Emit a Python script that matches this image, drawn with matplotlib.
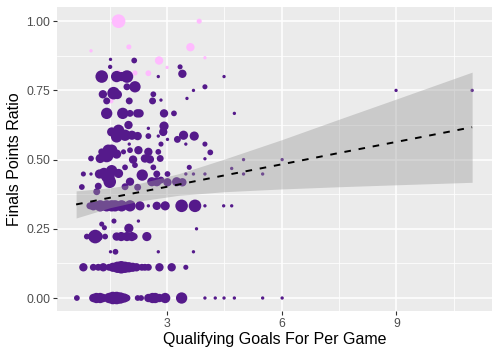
import matplotlib
matplotlib.use("Agg")
import matplotlib.pyplot as plt
import numpy as np

plt.rcParams['font.family'] = ['Liberation Sans', 'DejaVu Sans']

# ---- data ----
purple_x = [
    1.52, 2.14, 1.51, 3.34,
    1.29, 1.68, 1.81, 1.95, 2.77, 3.40, 4.49,
    1.95, 2.16, 3.99, 3.69, 8.99, 10.98,
    1.32, 1.60, 1.70, 2.64, 1.42, 2.01, 2.62, 2.84, 3.52,
    1.42, 1.84, 2.03, 2.22, 2.28, 2.92, 3.18, 4.76,
    1.99, 2.92, 2.51, 1.55, 1.73, 2.90,
    1.68, 1.90, 2.08, 2.23, 2.51, 2.77, 3.01, 3.27, 3.43, 3.71,
    2.01, 2.84, 3.49, 3.99,
    4.13, 3.99,
    1.29, 1.46, 1.55, 1.86, 2.03, 2.25, 2.51, 2.77,
    1.01, 1.25, 1.42, 1.68, 2.11, 2.42, 2.55, 2.82, 5.00, 6.01,
    0.81, 1.01, 1.23, 1.35, 1.45, 1.55, 1.50, 1.73, 1.90, 2.16, 2.03, 2.35, 2.64, 2.60,
    2.84, 2.73, 3.01, 2.73, 3.01, 3.25, 3.40, 3.49, 3.69, 3.99, 3.58, 4.69, 5.00, 5.50,
    0.77, 1.20, 1.90, 2.23, 1.16,
    0.98, 1.07, 1.25, 1.42, 1.55, 1.64, 1.81, 2.03, 2.29, 2.51, 2.73, 2.95, 3.38, 3.73,
    3.99, 4.48, 4.69,
    1.61, 2.25, 1.29, 1.36, 2.00, 3.77,
    0.90, 1.12, 1.05, 1.20, 1.38, 1.68, 1.80, 1.95, 2.08, 2.14, 2.47,
    1.52, 1.65, 2.77, 3.69,
    0.81, 1.07, 1.20, 1.33, 1.48, 1.58, 1.70, 1.80, 1.90, 2.00, 2.10, 2.20, 2.34, 2.42,
    2.51, 2.80, 3.12, 3.49,
    0.64, 1.07, 1.15, 1.25, 1.33, 1.48, 1.58, 1.68, 1.78, 1.88, 1.95, 2.23, 2.32, 2.51,
    2.62, 2.69, 2.80, 2.95, 3.38, 3.99, 4.26, 4.49, 4.76, 5.50, 6.01,
]
purple_y = [
    0.862, 0.858, 0.835, 0.835,
    0.80, 0.80, 0.80, 0.80, 0.80, 0.81, 0.80,
    0.763, 0.763, 0.763, 0.75, 0.75, 0.75,
    0.736, 0.74, 0.735, 0.736, 0.712, 0.712, 0.712, 0.715, 0.721,
    0.667, 0.667, 0.667, 0.667, 0.667, 0.667, 0.667, 0.667,
    0.625, 0.621, 0.613, 0.60, 0.606, 0.60,
    0.582, 0.588, 0.588, 0.585, 0.585, 0.585, 0.573, 0.573, 0.588, 0.585,
    0.556, 0.556, 0.556, 0.556,
    0.526, 0.503,
    0.528, 0.534, 0.534, 0.528, 0.534, 0.534, 0.528, 0.528,
    0.504, 0.504, 0.515, 0.52, 0.50, 0.504, 0.501, 0.504, 0.50, 0.50,
    0.448, 0.448, 0.448, 0.45, 0.44, 0.46, 0.42, 0.45, 0.472, 0.48, 0.42, 0.444, 0.472, 0.42,
    0.426, 0.448, 0.448, 0.42, 0.418, 0.42, 0.418, 0.448, 0.448, 0.448, 0.472, 0.468, 0.448, 0.448,
    0.401, 0.404, 0.402, 0.40, 0.384,
    0.333, 0.333, 0.333, 0.333, 0.333, 0.333, 0.333, 0.333, 0.333, 0.333, 0.333, 0.333, 0.333, 0.333,
    0.333, 0.333, 0.333,
    0.278, 0.278, 0.267, 0.254, 0.252, 0.25,
    0.222, 0.222, 0.222, 0.222, 0.222, 0.222, 0.222, 0.222, 0.222, 0.222, 0.222,
    0.167, 0.167, 0.167, 0.167,
    0.111, 0.111, 0.111, 0.111, 0.111, 0.111, 0.111, 0.111, 0.111, 0.111, 0.111, 0.111, 0.111, 0.111,
    0.111, 0.111, 0.111, 0.111,
    0.0, 0.0, 0.0, 0.0, 0.0, 0.0, 0.0, 0.0, 0.0, 0.0, 0.0, 0.0, 0.0, 0.0,
    0.0, 0.0, 0.0, 0.0, 0.0, 0.0, 0.0, 0.0, 0.0, 0.0, 0.0,
]
purple_games = [
    1, 4, 2, 3,
    21, 17, 11, 21, 1, 9, 1,
    6, 17, 3, 1, 1, 1,
    9, 21, 11, 4, 6, 6, 6, 1, 1,
    17, 17, 6, 9, 9, 9, 4, 1,
    9, 11, 1, 11, 17, 9,
    17, 17, 11, 9, 4, 1, 1, 6, 11, 11,
    1, 3, 1, 3,
    4, 1,
    6, 17, 17, 3, 4, 9, 9, 4,
    4, 11, 25, 11, 9, 9, 9, 6, 1, 1,
    3, 1, 11, 17, 25, 17, 21, 11, 4, 4, 9, 17, 4, 11,
    6, 6, 4, 11, 9, 11, 9, 1, 1, 1, 3, 1, 1, 1,
    4, 6, 6, 6, 6,
    6, 11, 17, 17, 17, 17, 17, 17, 11, 1, 9, 11, 21, 21,
    1, 1, 1,
    3, 1, 3, 3, 11, 1,
    4, 25, 11, 11, 4, 9, 11, 11, 11, 6, 11,
    1, 4, 1, 1,
    9, 6, 6, 9, 6, 11, 17, 21, 17, 14, 11, 9, 6, 6,
    6, 9, 9, 3,
    4, 9, 14, 14, 9, 14, 21, 21, 17, 11, 6, 4, 4, 9,
    14, 14, 9, 14, 17, 1, 1, 1, 1, 1, 1,
]

pink_x = [1.73, 3.84, 1.01, 2.00, 3.61, 3.99, 2.79, 3.00, 2.16, 2.51, 1.73, 1.53]
pink_y = [1.0, 1.0, 0.893, 0.907, 0.906, 0.868, 0.858, 0.833, 0.813, 0.812, 0.815, 0.712]
pink_games = [25, 3, 1, 3, 9, 1, 9, 1, 3, 4, 3, 3]

# linear fit and its confidence band, read at several x positions
fit_x = [0.62, 1.5, 2.3, 3.3, 4.5, 6.0, 7.5, 9.0, 10.98]
fit_y = [0.338, 0.362, 0.383, 0.410, 0.443, 0.483, 0.524, 0.564, 0.617]
fit_lo = [0.289, 0.326, 0.351, 0.371, 0.384, 0.394, 0.402, 0.409, 0.418]
fit_hi = [0.387, 0.398, 0.415, 0.449, 0.502, 0.572, 0.646, 0.719, 0.816]

x_ticks = [3, 6, 9]
y_ticks = [0.0, 0.25, 0.5, 0.75, 1.0]
y_ticklabels = ["0.00", "0.25", "0.50", "0.75", "1.00"]

assert len(purple_x) == len(purple_y) == len(purple_games)

# ---- figure ----
fig = plt.figure(figsize=(5.0, 3.58), dpi=100)
ax = fig.add_axes([0.114, 0.132, 0.870, 0.849])
ax.set_facecolor("#EBEBEB")
for s in ax.spines.values():
    s.set_visible(False)

def size_scale(g):
    return 3.8 * np.asarray(g, dtype=float) + 2.0

ax.scatter(pink_x, pink_y, s=size_scale(pink_games), color="#FFBBFF",
           linewidths=0, zorder=3)
ax.scatter(purple_x, purple_y, s=size_scale(purple_games), color="#551A8B",
           linewidths=0, zorder=3)

ax.fill_between(fit_x, fit_lo, fit_hi, color="#999999", alpha=0.4,
                linewidth=0, zorder=4)
ax.plot(fit_x, fit_y, color="black", lw=1.4, dashes=(3.4, 4.0), zorder=5)

ax.set_xlim(0.12, 11.5)
ax.set_ylim(-0.046, 1.052)
ax.set_xticks(x_ticks)
ax.set_xticks([1.5, 4.5, 7.5, 10.5], minor=True)
ax.set_yticks(y_ticks)
ax.set_yticklabels(y_ticklabels)
ax.set_yticks([0.125, 0.375, 0.625, 0.875], minor=True)

ax.grid(which="major", color="white", lw=1.1, zorder=0)
ax.grid(which="minor", color="white", lw=0.55, zorder=0)
ax.set_axisbelow(True)

ax.tick_params(which="major", length=3, width=0.8, color="#333333",
               labelcolor="#4D4D4D", labelsize=8.8, pad=2)
ax.tick_params(which="minor", length=0)

ax.set_xlabel("Qualifying Goals For Per Game", fontsize=11.5, color="black", labelpad=2)
ax.set_ylabel("Finals Points Ratio", fontsize=11.5, color="black", labelpad=3)

fig.savefig("out.png", dpi=100)
